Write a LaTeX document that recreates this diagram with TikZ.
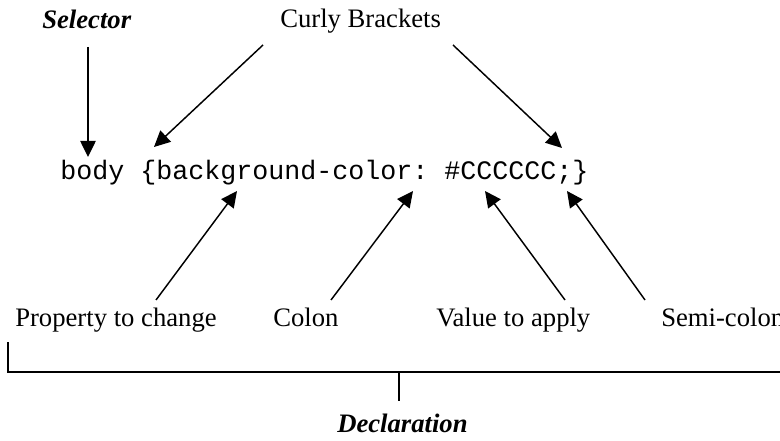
\documentclass[tikz,border=0pt]{standalone}
\usepackage{fontspec}
\setmainfont{Liberation Serif}
\setmonofont{Liberation Mono}
\usetikzlibrary{arrows.meta}
\begin{document}
\begin{tikzpicture}[x=0.75pt,y=-0.75pt,
  lbl/.style={anchor=base west,inner sep=0pt,font=\fontsize{20}{24}\selectfont},
  blbl/.style={lbl,font=\fontsize{20}{24}\selectfont\bfseries\itshape},
  codetxt/.style={anchor=base west,inner sep=0pt,font=\fontsize{20}{24}\selectfont\ttfamily},
  arr/.style={line width=1.1pt,-{Triangle[length=12pt,width=11.5pt]}},
  brk/.style={line width=1.3pt}]
\useasboundingbox (0,0) rectangle (780,441);
\clip (0,0) rectangle (780,441);
\fill[white] (0,0) rectangle (780,441);
% texts
\node[blbl] (selector) at (42,29) {Selector};
\node[lbl] (curly) at (280,28) {Curly Brackets};
\node[codetxt] (code) at (60,180) {body \{background-color: \#CCCCCC;\}};
\node[lbl] (prop) at (15,326) {Property to change};
\node[lbl] (colon) at (273,326) {Colon};
\node[lbl] (value) at (436,326) {Value to apply};
\node[lbl] (semi) at (661,326) {Semi-colon};
\node[blbl] (decl) at (337,432) {Declaration};
% arrow coordinates
\coordinate (s0) at (88,47);   \coordinate (s1) at (88,157);
\coordinate (c0) at (263,45);  \coordinate (c1) at (154,147);
\coordinate (d0) at (453,45);  \coordinate (d1) at (562,148);
\coordinate (p0) at (156,300); \coordinate (p1) at (237,191);
\coordinate (k0) at (331,300); \coordinate (k1) at (413,191);
\coordinate (v0) at (565,300); \coordinate (v1) at (485,191);
\coordinate (m0) at (645,300); \coordinate (m1) at (567,191);
\draw[arr] (s0) -- (s1);
\draw[arr] (c0) -- (c1);
\draw[arr] (d0) -- (d1);
\draw[arr] (p0) -- (p1);
\draw[arr] (k0) -- (k1);
\draw[arr] (v0) -- (v1);
\draw[arr] (m0) -- (m1);
% bracket
\coordinate (b0) at (8,342);
\coordinate (b1) at (8,372);
\coordinate (b2) at (790,372);
\coordinate (t0) at (399,372);
\coordinate (t1) at (399,401);
\draw[brk] (b0) -- (b1) -- (b2);
\draw[brk] (t0) -- (t1);
\end{tikzpicture}
\end{document}
